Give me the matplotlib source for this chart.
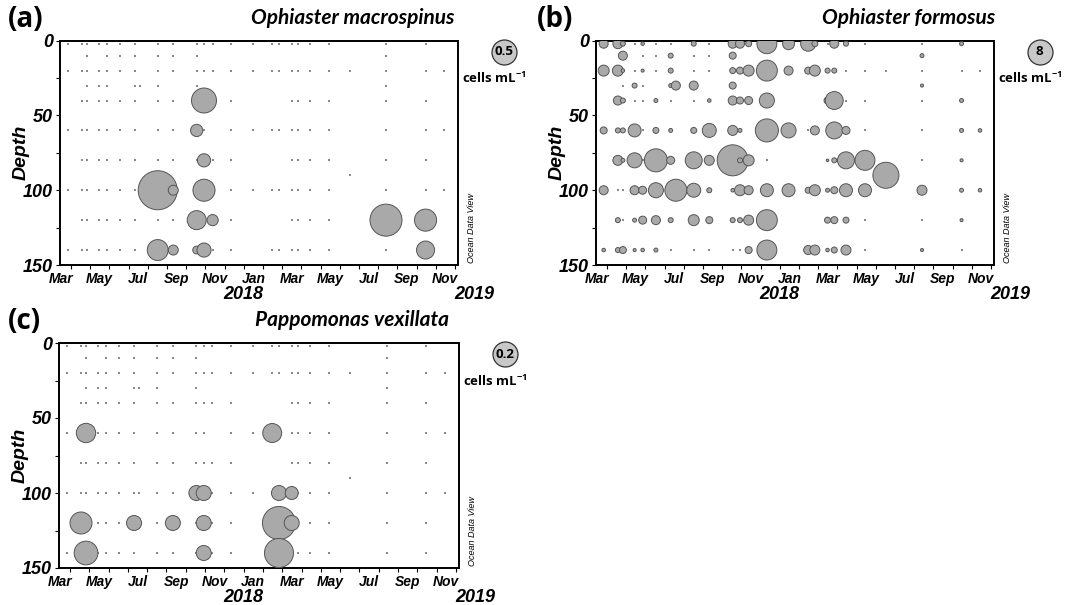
import numpy as np
import matplotlib
matplotlib.use('Agg')
import matplotlib.pyplot as plt
from matplotlib.ticker import FixedLocator

plt.rcParams['font.family'] = ['Liberation Sans', 'DejaVu Sans']
plt.rcParams['mathtext.fontset'] = 'custom'
plt.rcParams['mathtext.rm'] = 'Open Sans'
plt.rcParams['mathtext.bf'] = 'Open Sans:bold'

# fechas de muestreo, en meses desde el 1 de marzo de 2017
fechas = [0.83, 1.57, 1.83, 2.44, 2.86, 3.55, 4.32, 4.59, 5.52, 6.33,
          7.55, 7.93, 8.38, 9.33, 10.46, 11.48, 11.83, 12.49, 12.84, 13.45,
          14.44, 15.53, 17.41, 19.47, 20.43, 21.33]

# columnas (indice de fecha) muestreadas en cada profundidad
muestreo = {
    2: [0, 1, 2, 3, 4, 5, 6, 8, 9, 10, 11, 12, 13, 14, 15, 16, 17, 18, 19, 20, 22, 23, 25],
    10: [2, 4, 5, 6, 8, 9, 10, 22],
    20: [0, 1, 2, 3, 4, 5, 6, 8, 9, 10, 11, 12, 13, 14, 15, 16, 17, 18, 19, 20, 21, 22, 23, 24, 25],
    30: [2, 3, 4, 6, 7, 8, 10, 22],
    40: [1, 2, 3, 4, 5, 6, 8, 9, 10, 11, 12, 13, 17, 18, 19, 20, 22, 23],
    60: [0, 1, 2, 3, 4, 5, 6, 8, 9, 10, 11, 13, 14, 15, 16, 17, 18, 19, 20, 22, 23, 24, 25],
    80: [1, 2, 3, 4, 5, 6, 8, 9, 10, 11, 12, 13, 17, 18, 19, 20, 22, 23],
    90: [21],
    100: [0, 1, 2, 3, 4, 5, 6, 7, 8, 9, 10, 11, 12, 13, 14, 15, 16, 17, 18, 19, 20, 22, 23, 24, 25],
    120: [1, 2, 3, 4, 5, 6, 8, 9, 10, 11, 12, 13, 17, 18, 19, 20, 22, 23],
    140: [0, 1, 2, 3, 4, 5, 6, 8, 9, 10, 11, 12, 13, 15, 16, 17, 18, 19, 20, 22, 23, 25],
}

# (a) Ophiaster macrospinus  (cells mL-1)
a_col = [11, 10, 11, 8, 9, 11, 10, 12, 8, 9, 10, 11, 22, 23, 23]
a_prof = [40, 60, 80, 100, 100, 100, 120, 120, 140, 140, 140, 140, 120, 120, 140]
a_val = [0.5, 0.12, 0.14, 1.22, 0.08, 0.39, 0.29, 0.10, 0.35, 0.08, 0.05, 0.16, 0.82, 0.39, 0.26]

# (b) Ophiaster formosus
b_col = [0, 1, 2, 4, 8, 10, 11, 12, 13, 14, 15, 16, 18, 19, 23,
         2, 6, 10, 22,
         0, 1, 2, 4, 6, 10, 11, 12, 13, 14, 15, 16, 17, 18,
         3, 6, 7, 8, 10, 22,
         1, 2, 5, 9, 10, 11, 12, 13, 17, 18, 23,
         0, 1, 2, 3, 5, 6, 8, 9, 10, 11, 13, 14, 16, 18, 19, 23, 24,
         1, 2, 3, 5, 6, 8, 9, 10, 11, 12, 17, 18, 19, 20, 23,
         21,
         0, 3, 4, 5, 7, 8, 9, 10, 11, 12, 13, 14, 15, 16, 17, 18, 19, 20, 22, 23, 24,
         1, 3, 4, 5, 6, 8, 9, 10, 11, 12, 13, 17, 18, 19, 23,
         0, 1, 2, 3, 4, 5, 12, 13, 15, 16, 17, 18, 19, 22]
b_prof = [2] * 15 + [10] * 4 + [20] * 14 + [30] * 6 + [40] * 11 + [60] * 17 + \
         [80] * 15 + [90] + [100] * 21 + [120] * 15 + [140] * 14
b_val = [1.04, 1.28, 0.32, 0.16, 0.32, 1.04, 1.04, 0.46, 5.1, 1.84, 2.9, 0.46, 1.04, 0.32, 0.2,
         1.04, 0.32, 0.63, 0.2,
         1.55, 1.55, 0.16, 0.12, 0.32, 0.46, 0.63, 1.55, 5.6, 1.04, 0.63, 1.55, 0.32, 0.32,
         0.32, 0.2, 1.04, 1.04, 0.63, 0.12,
         1.04, 0.32, 0.2, 0.16, 1.04, 0.63, 0.82, 2.9, 0.63, 4.1, 0.2,
         0.63, 0.32, 0.32, 2.16, 0.46, 0.2, 0.46, 2.5, 1.28, 0.2, 6.8, 2.9, 1.04, 3.7, 0.82, 0.2, 0.16,
         1.28, 0.2, 2.9, 6.8, 0.82, 3.7, 1.28, 12.3, 0.32, 1.55, 0.08, 0.32, 3.7, 5.1, 0.12,
         8.7,
         1.04, 1.04, 0.82, 2.9, 6.2, 2.5, 0.32, 0.16, 1.55, 1.04, 2.16, 2.16, 0.46, 1.55, 0.2, 0.63,
         2.16, 2.16, 1.28, 0.2, 0.16,
         0.32, 0.2, 0.82, 1.04, 0.32, 1.55, 0.63, 0.32, 0.32, 1.28, 5.6, 0.46, 0.63, 0.46, 0.12,
         0.16, 0.32, 0.63, 0.12, 0.16, 0.2, 0.63, 5.1, 1.04, 1.28, 0.16, 0.46, 1.28, 0.12]

# (c) Pappomonas vexillata
c_col = [2, 1, 2, 6, 9, 10, 11, 11, 11, 15, 16, 17, 16, 17, 16]
c_prof = [60, 120, 140, 120, 120, 100, 100, 120, 140, 60, 100, 100, 120, 120, 140]
c_val = [0.12, 0.155, 0.18, 0.072, 0.072, 0.072, 0.072, 0.072, 0.072, 0.115, 0.072, 0.054, 0.35, 0.072, 0.27]

meses = ['Mar', 'May', 'Jul', 'Sep', 'Nov', 'Jan', 'Mar', 'May', 'Jul', 'Sep', 'Nov']

D_REF = 25  # diametro del circulo de la leyenda en pixeles
gris = '#a9a9a9'
borde = '#555555'


def panel(ax, cols, profs, vals, ref, letra, x_letra, titulo, x_titulo, pos_ley):
    # puntos de muestreo (valor cero)
    for p, cc in muestreo.items():
        ax.scatter([fechas[i] for i in cc], [p] * len(cc), s=1.4, marker='s',
                   color='#8a8a8a', linewidths=0, zorder=2)
    orden = np.argsort(cols, kind='stable')
    x = np.array([fechas[cols[i]] for i in orden])
    y = np.array([profs[i] for i in orden])
    v = np.array([vals[i] for i in orden])
    s = (0.72 * D_REF) ** 2 * v / ref
    ax.scatter(x, y, s=s, color=gris, edgecolors=borde, linewidths=0.7, zorder=3)

    ax.set_xlim(0.43, 21.16)
    ax.set_ylim(150, 0)
    ax.xaxis.set_major_locator(FixedLocator(np.arange(0.5, 21, 2)))
    ax.set_xticklabels(meses)
    ax.xaxis.set_minor_locator(FixedLocator(np.arange(1, 22)))
    ax.tick_params(axis='x', which='major', length=0, pad=5)
    ax.tick_params(axis='x', which='minor', length=3, width=0.8, direction='out')
    ax.set_yticks([0, 50, 100, 150])
    ax.yaxis.set_minor_locator(FixedLocator([25, 75, 125]))
    ax.tick_params(axis='y', which='both', length=3, width=0.8, pad=2)
    for t in ax.get_xticklabels():
        t.set_fontsize(10)
        t.set_fontweight('bold')
        t.set_fontstyle('italic')
    for t in ax.get_yticklabels():
        t.set_fontsize(13)
        t.set_fontweight('bold')
        t.set_fontstyle('italic')
    ax.set_ylabel('Depth', fontsize=14, fontweight='bold', fontstyle='italic')
    ax.yaxis.set_label_coords(-0.076, 0.5)
    for sp in ax.spines.values():
        sp.set_linewidth(1.4)

    tr = ax.get_xaxis_transform()
    ax.text(10, -0.13, '2018', transform=tr, ha='center', va='center', fontsize=13,
            fontweight='bold', fontstyle='italic', clip_on=False)
    ax.text(22, -0.13, '2019', transform=tr, ha='center', va='center', fontsize=13,
            fontweight='bold', fontstyle='italic', clip_on=False)
    ax.text(1.022, 0.01, 'Ocean Data View', transform=ax.transAxes, rotation=90,
            fontsize=6.5, fontstyle='italic', ha='left', va='bottom')

    # leyenda
    lx, ly = pos_ley
    ax.scatter([lx], [ly], s=(0.72 * D_REF) ** 2, color='#c8c8c8', edgecolors='#333333',
               linewidths=0.9, transform=ax.transAxes, clip_on=False, zorder=5)
    ax.text(lx, ly, str(ref), transform=ax.transAxes, ha='center', va='center',
            fontsize=9.5, fontweight='bold', family=['Open Sans', 'DejaVu Sans'], zorder=6)
    ax.text(lx - 0.025, ly - 0.12, r'cells mL$^{\mathbf{-1}}$', transform=ax.transAxes,
            ha='center', va='center', fontsize=9.5, fontweight='bold',
            family=['Open Sans', 'DejaVu Sans'])

    bb = ax.get_position()
    fig.text(x_letra / 1070, bb.y1 + 0.035, letra, fontsize=20, fontweight='bold',
             family=['Open Sans', 'DejaVu Sans'], ha='left', va='center')
    fig.text(x_titulo / 1070, bb.y1 + 0.038, titulo, fontsize=15, fontweight='bold',
             fontstyle='italic', family=['Lato', 'DejaVu Sans'], ha='center', va='center')


fig = plt.figure(figsize=(10.7, 6.05), dpi=100)
ax_a = fig.add_axes([60 / 1070, 1 - 265 / 605, 398 / 1070, 224.3 / 605])
ax_b = fig.add_axes([596 / 1070, 1 - 265 / 605, 398 / 1070, 224.3 / 605])
ax_c = fig.add_axes([59 / 1070, 1 - 568 / 605, 400 / 1070, 225 / 605])

panel(ax_a, a_col, a_prof, a_val, 0.5, '(a)', 8, 'Ophiaster macrospinus', 353, (1.115, 0.95))
panel(ax_b, b_col, b_prof, b_val, 8, '(b)', 537, 'Ophiaster formosus', 909, (1.115, 0.95))
panel(ax_c, c_col, c_prof, c_val, 0.2, '(c)', 8, 'Pappomonas vexillata', 352, (1.115, 0.95))

fig.savefig('out.png', dpi=100)
